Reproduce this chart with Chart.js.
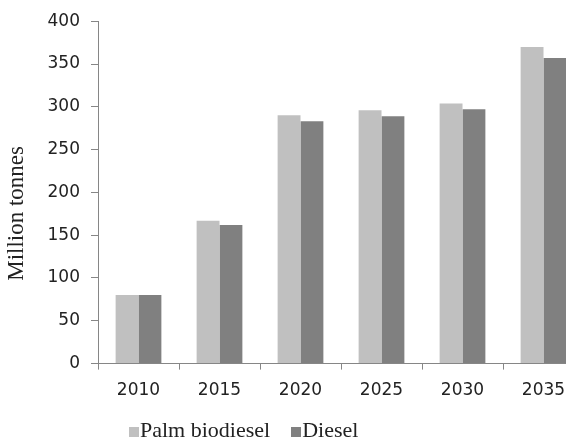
<!DOCTYPE html>
<html>
<head>
<meta charset="utf-8">
<script src="https://cdn.jsdelivr.net/npm/chart.js@4"></script>
<style>
  html, body { margin: 0; padding: 0; background: #fff; overflow: hidden; }
  #wrap { position: relative; width: 566px; height: 441px; overflow: hidden; }
  #box { position: absolute; left: 0; top: 0; width: 600px; height: 441px; }
  #legend { position: absolute; left: 129px; top: 417px; font: 22px "Liberation Serif", serif; color: #222; white-space: nowrap; }
  #legend span.sw { display: inline-block; width: 10px; height: 10px; margin-right: 1px; }
  #legend span.item { margin-right: 21px; }
</style>
</head>
<body>
<div id="wrap">
  <div id="box"><canvas id="bar-chart" width="600" height="441"></canvas></div>
  <div id="legend"></div>
</div>
<script>
const years = ['2010', '2015', '2020', '2025', '2030', '2035'];
const palmBiodiesel = [80, 167, 290, 296, 304, 370];
const diesel = [80, 162, 283, 289, 297, 357];

const axisGrey = '#868686';
const tickFont = { family: 'DejaVu Sans', size: 17 };

// y title sits a bit below the plot centre, like the original
const yTitle = {
    id: 'yTitle',
    afterDraw(chart) {
        const area = chart.chartArea;
        const ctx = chart.ctx;
        ctx.save();
        ctx.translate(chart.scales.y.left + 17, (area.top + area.bottom) / 2 + 21);
        ctx.rotate(-Math.PI / 2);
        ctx.font = '23px "Liberation Serif"';
        ctx.fillStyle = '#222';
        ctx.textAlign = 'center';
        ctx.textBaseline = 'middle';
        ctx.fillText('Million tonnes', 0, 0);
        ctx.restore();
    }
};

const bar = new Chart(document.getElementById('bar-chart'), {
    type: 'bar',
    data: {
        labels: years,
        datasets: [{
            label: 'Palm biodiesel',
            data: palmBiodiesel,
            backgroundColor: '#c0c0c0'
        }, {
            label: 'Diesel',
            data: diesel,
            backgroundColor: '#808080'
        }]
    },
    options: {
        responsive: false,
        animation: false,
        datasets: {
            bar: { categoryPercentage: 0.565, barPercentage: 1.0 }
        },
        layout: { padding: { left: 0, top: 20, right: 16, bottom: 29 } },
        plugins: {
            legend: { display: false },
            tooltip: { enabled: false }
        },
        scales: {
            x: {
                grid: { display: true, offset: true, drawOnChartArea: false, tickLength: 6, color: axisGrey },
                border: { color: axisGrey },
                ticks: { font: tickFont, color: '#222', padding: 11, maxRotation: 0 }
            },
            y: {
                min: 0,
                max: 400,
                afterFit(scale) { scale.width = 98; },
                grid: { drawOnChartArea: false, tickLength: 7, color: axisGrey },
                border: { color: axisGrey },
                ticks: { stepSize: 50, font: tickFont, color: '#222', padding: 11 }
            }
        }
    },
    plugins: [yTitle]
});

// html legend from the datasets
document.getElementById('legend').innerHTML = bar.data.datasets.map(ds =>
    '<span class="item"><span class="sw" style="background:' + ds.backgroundColor + '"></span>' + ds.label + '</span>'
).join('');
</script>
</body>
</html>
